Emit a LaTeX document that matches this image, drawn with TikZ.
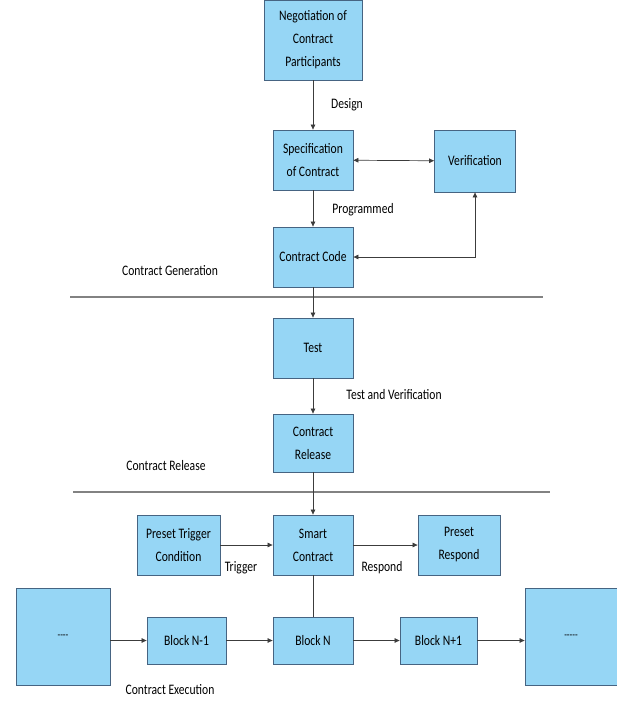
\documentclass[tikz,border=0pt]{standalone}
\usepackage{fontspec}
\setmainfont[FakeStretch=0.8]{Carlito}
\usetikzlibrary{arrows.meta}
\definecolor{boxfill}{RGB}{150,214,245}
\definecolor{boxdraw}{RGB}{70,100,130}
\definecolor{linec}{RGB}{60,60,60}
\definecolor{divc}{RGB}{130,130,130}
\begin{document}
\begin{tikzpicture}[x=1pt,y=-1pt,
  box/.style={draw=boxdraw,fill=boxfill,line width=0.8pt,align=center,inner sep=1pt,
    font=\fontsize{14.5}{23}\selectfont},
  lbl/.style={font=\fontsize{14.5}{16}\selectfont,inner sep=0pt},
  conn/.style={draw=linec,line width=0.7pt},
  arr/.style={conn,-{Triangle[width=4.5pt,length=5pt]}},
  darr/.style={conn,{Triangle[width=4.5pt,length=5pt]}-{Triangle[width=4.5pt,length=5pt]}},
  divider/.style={draw=divc,line width=1.4pt}]
\useasboundingbox (0,0) rectangle (617,702);
\fill[white] (0,0) rectangle (617,702);
% nodes
\node[box,minimum width=98pt,minimum height=80pt] (neg) at (313,40) {Negotiation of\\Contract\\Participants};
\node[box,minimum width=80pt,minimum height=60pt] (spec) at (313,160) {Specification\\of Contract};
\node[box,minimum width=81pt,minimum height=62pt] (ver) at (475,161) {Verification};
\node[box,minimum width=80pt,minimum height=60pt] (code) at (313,257) {Contract Code};
\node[box,minimum width=80pt,minimum height=60pt] (test) at (313,348) {Test};
\node[box,minimum width=80pt,minimum height=58pt] (rel) at (313,443) {Contract\\Release};
\node[box,minimum width=80pt,minimum height=60pt] (smart) at (313,545) {Smart\\Contract};
\node[box,minimum width=83pt,minimum height=60pt] (trig) at (178.5,545) {Preset Trigger\\Condition};
\node[box,minimum width=82pt,minimum height=60pt] (resp) at (459,545) {Preset\\Respond};
\node[box,minimum width=79pt,minimum height=47pt] (bn1) at (186.5,640.5) {Block N-1};
\node[box,minimum width=80pt,minimum height=47pt] (bn) at (313,640.5) {Block N};
\node[box,minimum width=77pt,minimum height=47pt] (bnp) at (438.5,640.5) {Block N+1};
\node[box,minimum width=94pt,minimum height=97pt,font=\fontsize{11}{12}\selectfont] (lbig) at (63,636.5) {{-}{-}{-}{-}};
\node[box,minimum width=92pt,minimum height=97pt,font=\fontsize{11}{12}\selectfont] (rbig) at (571,636.5) {{-}{-}{-}{-}{-}};
% dividers
\coordinate (d1l) at (70,297); \coordinate (d1r) at (543,297);
\coordinate (d2l) at (73,492); \coordinate (d2r) at (550,492);
\path[divider] (d1l) -- (d1r);
\path[divider] (d2l) -- (d2r);
% labels
\node[lbl] (design) at (347,105) {Design};
\node[lbl] (prog) at (363,210) {Programmed};
\node[lbl] (gen) at (170,271) {Contract Generation};
\node[lbl] (tv) at (394,395) {Test and Verification};
\node[lbl] (crel) at (166,466) {Contract Release};
\node[lbl] (trl) at (241,568) {Trigger};
\node[lbl] (rsl) at (382,568) {Respond};
\node[lbl] (exe) at (170,690) {Contract Execution};
% connectors
\path[arr] (neg) -- (spec);
\path[darr] (spec) -- (ver);
\path[arr] (spec) -- (code);
\path[darr] (ver.south) |- (code.east);
\path[arr] (code) -- (test);
\path[arr] (test) -- (rel);
\path[arr] (rel) -- (smart);
\path[arr] (trig) -- (smart);
\path[arr] (smart) -- (resp);
\path[conn] (smart) -- (bn);
\path[arr] (lbig.east |- bn1) -- (bn1);
\path[arr] (bn1) -- (bn);
\path[arr] (bn) -- (bnp);
\path[arr] (bnp) -- (rbig.west |- bnp);
\end{tikzpicture}
\end{document}
